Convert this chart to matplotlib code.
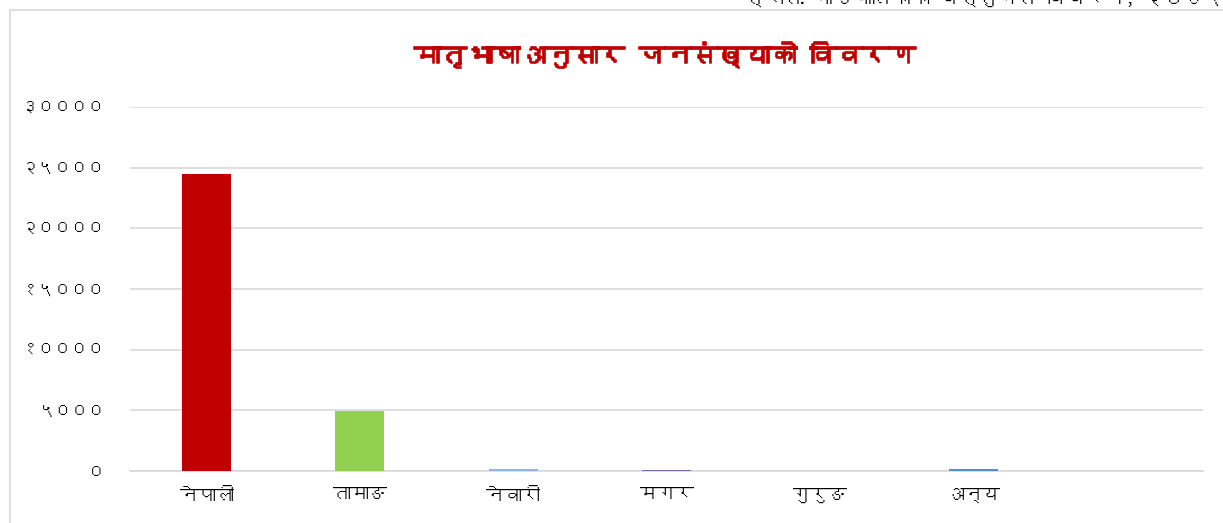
import matplotlib
matplotlib.use("Agg")
import matplotlib.pyplot as plt
import matplotlib.patheffects as pe
from matplotlib import font_manager as fm
from matplotlib.ft2font import FT2Font
from matplotlib.patches import Rectangle
import numpy as np

# Data
languages = ["नेपाली", "तामाङ", "नेवारी", "मगर", "गुरुङ", "अन्य", ""]
population = [24500, 4950, 150, 80, 0, 200, 0]
bar_colors = ["#C00000", "#92D050", "#8DB4E2", "#8064A2", "#4F81BD", "#558ED5", "#FFFFFF"]
yticks = [0, 5000, 10000, 15000, 20000, 25000, 30000]
title = "मातृभाषाअनुसार जनसंख्याको विवरण"
source = "स्रोतः गाउँपालिकाको वस्तुगत विवरण, २०७५"

dev_digits = str.maketrans("0123456789", "०१२३४५६७८९")
ytick_labels = [str(v).translate(dev_digits) for v in yticks]


# pick a font that actually has Devanagari glyphs, if any is installed
def find_devanagari_font():
    for f in fm.fontManager.ttflist:
        try:
            cmap = FT2Font(f.fname).get_charmap()
        except Exception:
            continue
        if 0x0928 in cmap and 0x0966 in cmap:
            return f.name
    return None


dev_font = find_devanagari_font()
families = [dev_font, "DejaVu Sans"] if dev_font else ["DejaVu Sans"]
plt.rcParams["font.family"] = families

fig = plt.figure(figsize=(12.23, 5.23), dpi=100)
ax = fig.add_axes([130 / 1223, 52 / 523, 1073 / 1223, 364 / 523])

# chart area frame
fig.patches.append(Rectangle((10 / 1223, -0.01), 1.1, (513 / 523) + 0.01,
                             transform=fig.transFigure, fill=False,
                             edgecolor="#D9D9D9", linewidth=1.2))

x = np.arange(len(languages))
ax.bar(x, population, width=0.32, color=bar_colors, zorder=3)

ax.set_xlim(-0.5, len(languages) - 0.5)
ax.set_ylim(0, 30000)
ax.set_yticks(yticks)
ax.set_yticklabels(ytick_labels, fontsize=12)
ax.tick_params(axis="y", length=0, pad=18, colors="#000000")
ax.set_xticks(x)
ax.set_xticklabels(languages, fontsize=13)
ax.tick_params(axis="x", length=0, pad=12)

ax.grid(axis="y", color="#D9D9D9", linewidth=1.2, zorder=0)
for side in ["top", "right", "left"]:
    ax.spines[side].set_visible(False)
ax.spines["bottom"].set_color("#D9D9D9")
ax.spines["bottom"].set_linewidth(1.2)

# title drawn thicker with a stroke since the font has no bold face
fig.text(665 / 1223, 1 - 55 / 523, title, ha="center", va="center",
         color="#C00000", fontsize=19, fontweight="bold",
         path_effects=[pe.withStroke(linewidth=1.2, foreground="#C00000")])
fig.text(1, 1 + 0.005, source, ha="right", va="center",
         fontsize=14, color="#000000", style="italic")

fig.savefig("out.png", dpi=100)
